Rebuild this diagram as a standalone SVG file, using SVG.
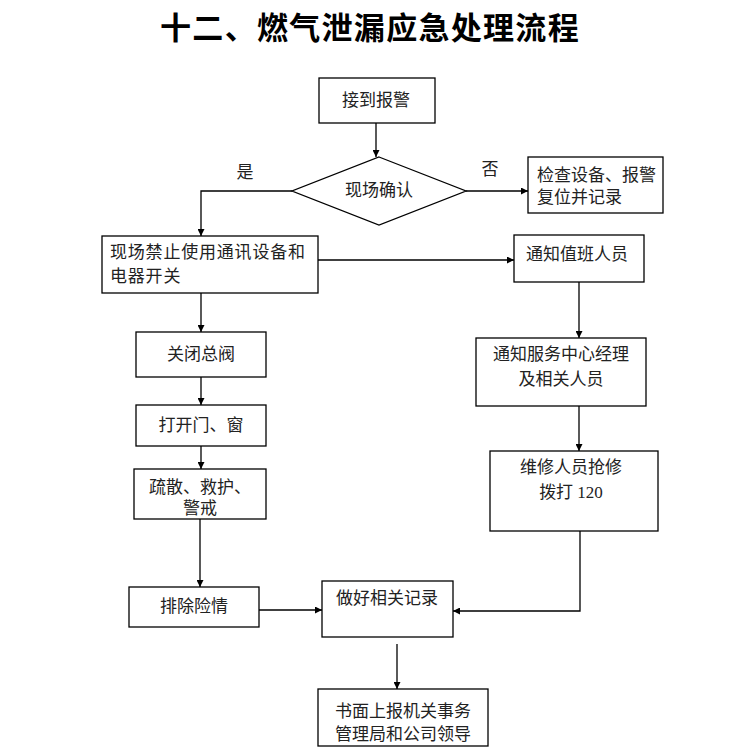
<svg xmlns="http://www.w3.org/2000/svg" width="752" height="756" viewBox="0 0 752 756">
<defs>
<style>
.box{fill:#fff;stroke:#000;stroke-width:1.3}
.t{font-family:"Liberation Serif","Noto Sans CJK SC",serif;font-size:17px;fill:#222}
.c{text-anchor:middle}
.ln{fill:none;stroke:#000;stroke-width:1.3}
.title{font-family:"Noto Sans CJK SC",sans-serif;font-size:31px;font-weight:bold;fill:#000;text-anchor:middle;letter-spacing:1.3px}
</style>
<marker id="ah" viewBox="0 0 10 10" refX="10" refY="5" markerWidth="7" markerHeight="7" orient="auto" markerUnits="userSpaceOnUse">
<path d="M0,0 L10,5 L0,10 z" fill="#000"/>
</marker>
</defs>
<rect width="752" height="756" fill="#fff"/>
<text class="title" x="370" y="39">十二、燃气泄漏应急处理流程</text>

<g id="connectors">
<line class="ln" x1="376" y1="123" x2="376" y2="157" marker-end="url(#ah)"/>
<polyline class="ln" points="292,191 201,191 201,236" marker-end="url(#ah)"/>
<line class="ln" x1="466" y1="191" x2="528" y2="191" marker-end="url(#ah)"/>
<line class="ln" x1="318" y1="260" x2="514" y2="260" marker-end="url(#ah)"/>
<line class="ln" x1="579" y1="282" x2="579" y2="338" marker-end="url(#ah)"/>
<line class="ln" x1="579" y1="406" x2="579" y2="451" marker-end="url(#ah)"/>
<polyline class="ln" points="580,531 580,611 453,611" marker-end="url(#ah)"/>
<line class="ln" x1="201" y1="293" x2="201" y2="332" marker-end="url(#ah)"/>
<line class="ln" x1="201" y1="377" x2="201" y2="405" marker-end="url(#ah)"/>
<line class="ln" x1="201" y1="446" x2="201" y2="469" marker-end="url(#ah)"/>
<line class="ln" x1="200" y1="519" x2="200" y2="587" marker-end="url(#ah)"/>
<line class="ln" x1="259" y1="610" x2="322" y2="610" marker-end="url(#ah)"/>
<line class="ln" x1="397" y1="644" x2="397" y2="689" marker-end="url(#ah)"/>
<text class="t c" x="245" y="178">是</text>
<text class="t c" x="490" y="175">否</text>
</g>

<g id="n1"><rect class="box" x="319" y="78" width="116" height="45"/><text class="t c" x="376" y="106">接到报警</text></g>
<g id="n2"><polygon class="box" points="379,157 466,191 379,225 292,191"/><text class="t c" x="379" y="196">现场确认</text></g>
<g id="n3"><rect class="box" x="528" y="157" width="135" height="56"/><text class="t" x="537" y="181">检查设备、报警</text><text class="t" x="537" y="203">复位并记录</text></g>
<g id="n4"><rect class="box" x="102" y="236" width="216" height="57"/><text class="t" x="110" y="258" letter-spacing="0.8">现场禁止使用通讯设备和</text><text class="t" x="110" y="282" letter-spacing="0.8">电器开关</text></g>
<g id="n5"><rect class="box" x="514" y="235" width="130" height="47"/><text class="t" x="526" y="260">通知值班人员</text></g>
<g id="n6"><rect class="box" x="476" y="338" width="170" height="68"/><text class="t c" x="561" y="360">通知服务中心经理</text><text class="t c" x="561" y="385">及相关人员</text></g>
<g id="n7"><rect class="box" x="490" y="451" width="168" height="80"/><text class="t c" x="571" y="473">维修人员抢修</text><text class="t c" x="571" y="498">拨打 120</text></g>
<g id="n8"><rect class="box" x="136" y="332" width="130" height="45"/><text class="t c" x="201" y="360">关闭总阀</text></g>
<g id="n9"><rect class="box" x="136" y="405" width="130" height="41"/><text class="t c" x="201" y="431">打开门、窗</text></g>
<g id="n10"><rect class="box" x="134" y="469" width="132" height="50"/><text class="t c" x="200" y="493">疏散、救护、</text><text class="t c" x="200" y="514">警戒</text></g>
<g id="n11"><rect class="box" x="129" y="587" width="130" height="40"/><text class="t c" x="194" y="612">排除险情</text></g>
<g id="n12"><rect class="box" x="322" y="581" width="131" height="56"/><text class="t c" x="387" y="604">做好相关记录</text></g>
<g id="n13"><rect class="box" x="318" y="689" width="170" height="57"/><text class="t c" x="403" y="717">书面上报机关事务</text><text class="t c" x="403" y="740">管理局和公司领导</text></g>
</svg>
